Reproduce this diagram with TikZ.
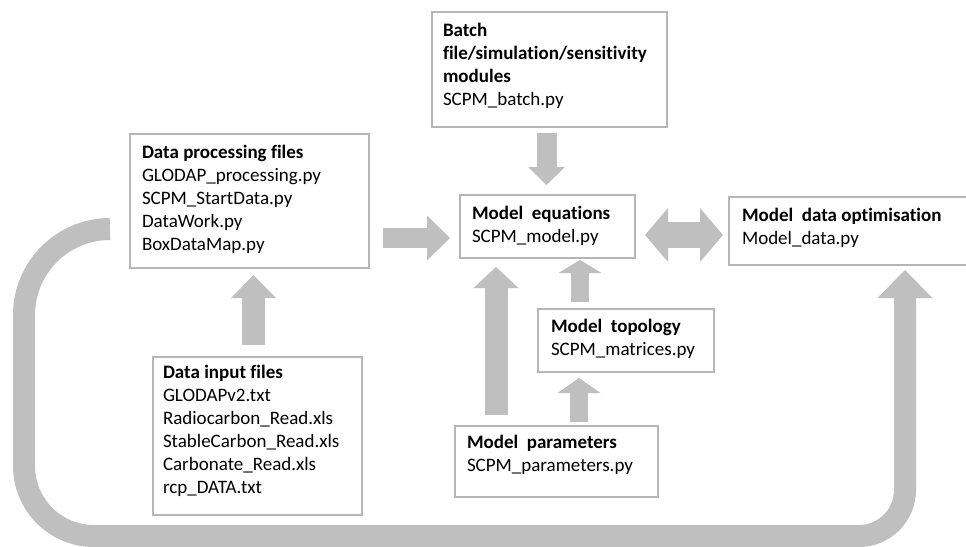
\documentclass[tikz,border=0pt]{standalone}
\usepackage{fontspec}
\setmainfont{Carlito}[Ligatures=NoCommon]
\usetikzlibrary{arrows.meta,calc}
\definecolor{agray}{RGB}{191,191,191}
\definecolor{bgray}{RGB}{182,182,182}
\begin{document}
\begin{tikzpicture}[x=1pt,y=-1pt,
  box/.style={draw=bgray, line width=1.2pt, anchor=north west, inner sep=0pt, outer sep=0pt},
  txt/.style={anchor=north west, inner sep=0pt, outer sep=0pt, align=left, font=\fontsize{19}{23}\selectfont},
  blk/.style n args={3}{draw=agray, line width=#1, -{Triangle[width=#2,length=#3,line width=0pt]}},
  dblk/.style n args={3}{draw=agray, line width=#1, {Triangle[width=#2,length=#3,line width=0pt]}-{Triangle[width=#2,length=#3,line width=0pt]}}]
\useasboundingbox (0,0) rectangle (966,546);

% boxes
\node[box, minimum width=235pt, minimum height=115pt] (bat) at (432,12) {};
\node[box, minimum width=239pt, minimum height=134pt] (dp) at (130,134) {};
\node[box, minimum width=175pt, minimum height=63pt] (me) at (460,195) {};
\node[box, minimum width=239pt, minimum height=68pt] (md) at (729,197) {};
\node[box, minimum width=176pt, minimum height=63pt] (mt) at (538,309) {};
\node[box, minimum width=203pt, minimum height=71pt] (mp) at (455,426) {};
\node[box, minimum width=209pt, minimum height=158pt] (di) at (153,357) {};

% texts
\node[txt] (batT) at ($(bat.north west)+(11,7.9)$) {\strut\textbf{Batch}\\\textbf{file/simulation/sensitivity}\\\textbf{modules}\\SCPM\_batch.py};
\node[txt] (dpT) at ($(dp.north west)+(12,7.9)$) {\strut\textbf{Data processing files}\\GLODAP\_processing.py\\SCPM\_StartData.py\\DataWork.py\\BoxDataMap.py};
\node[txt] (meT) at ($(me.north west)+(12,7.9)$) {\strut\textbf{Model\ \ equations}\\SCPM\_model.py};
\node[txt] (mdT) at ($(md.north west)+(13,7.9)$) {\strut\textbf{Model\ \ data optimisation}\\Model\_data.py};
\node[txt] (mtT) at ($(mt.north west)+(13,6.9)$) {\strut\textbf{Model\ \ topology}\\SCPM\_matrices.py};
\node[txt] (mpT) at ($(mp.north west)+(12,5.9)$) {\strut\textbf{Model\ \ parameters}\\SCPM\_parameters.py};
\node[txt] (diT) at ($(di.north west)+(10,4.9)$) {\strut\textbf{Data input files}\\GLODAPv2.txt\\Radiocarbon\_Read.xls\\StableCarbon\_Read.xls\\Carbonate\_Read.xls\\rcp\_DATA.txt};

% block arrows
\draw[blk={20pt}{37pt}{18pt}] ($(bat.south)+(-3,6)$) -- ($(me.north)+(-1,-10)$);
\draw[blk={20pt}{45pt}{23pt}] ($(dp.east)+(14,37)$) -- ($(me.west)+(-10,11.5)$);
\draw[dblk={26pt}{54pt}{23pt}] ($(me.east)+(10,8.5)$) -- ($(md.west)+(-6,4)$);
\draw[blk={23pt}{45pt}{23pt}] ($(di.north)+(-4,-12)$) -- ($(dp.south)+(4,7)$);
\draw[blk={23pt}{45pt}{21pt}] ($(mp.north)+(-60.5,-11)$) -- ($(me.south)+(-51.5,9)$);
\draw[blk={18pt}{43pt}{13pt}] ($(mt.north)+(-46,-7)$) -- ($(me.south)+(32.5,2)$);
\draw[blk={18pt}{43pt}{15pt}] ($(mp.north)+(22.5,-4)$) -- ($(mt.south)+(-47,6)$);

% feedback U arrow
\coordinate (us) at ($(dp.west)+(-20,28)$);
\coordinate (ue) at ($(md.south)+(56.5,5)$);
\draw[blk={22pt}{55pt}{28pt}] (us) arc[start angle=90,end angle=180,radius=86pt]
  -- ++(0,151) arc[start angle=180,end angle=270,radius=70pt]
  -- ++(765,0) arc[start angle=270,end angle=360,radius=46pt]
  -- (ue);
\end{tikzpicture}
\end{document}
